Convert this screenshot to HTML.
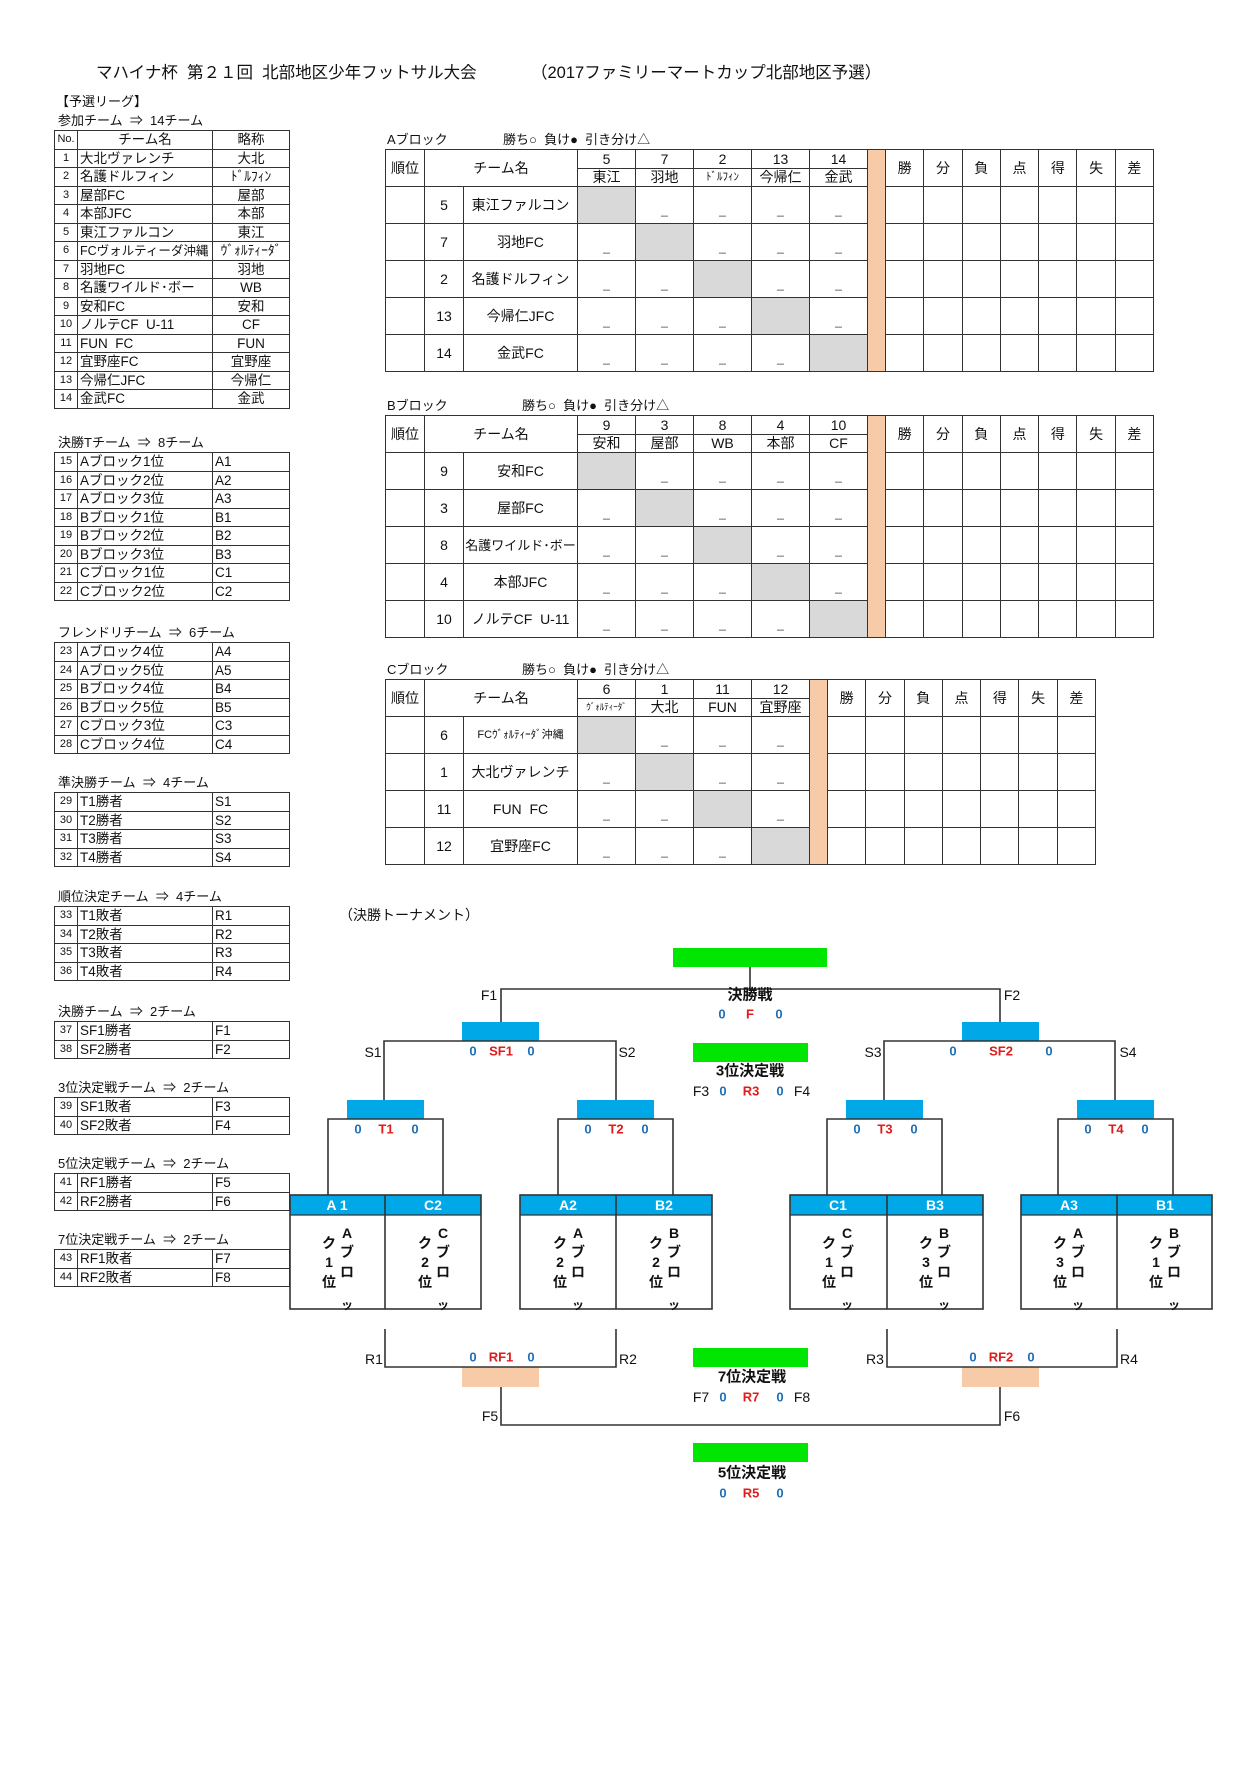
<!DOCTYPE html>
<html><head><meta charset="utf-8">
<style>
body{margin:0;width:1255px;height:1776px;background:#fff;position:relative;font-family:"Liberation Sans","Noto Sans CJK JP",sans-serif;color:#111;overflow:hidden}
.a{position:absolute;white-space:nowrap;line-height:1}
.c{position:absolute;white-space:nowrap;line-height:1;transform:translate(-50%,-50%)}
table{position:absolute;border-collapse:collapse;table-layout:fixed;font-size:13px}
td{border:1.5px solid #333;padding:0;text-align:center;line-height:1;overflow:hidden;white-space:nowrap}
.lt td{height:17.5px;font-size:13.5px}
.lt td.l{text-align:left;padding-left:2px}
.lt td.n{font-size:11px}
.bk td{height:36px;font-size:14px}
.bk tr.h td{height:17.5px}
.g{background:#d9d9d9}
.o{background:#f8cba8}
.bk td.d{vertical-align:bottom;font-size:12px;line-height:26px;padding:0;overflow:visible;color:#444}
.b{font-weight:bold}
.bl{color:#1f6fb5;font-weight:bold;font-size:13px}
.rd{color:#e01b1b;font-weight:bold;font-size:13px}
</style></head><body>

<div class="a" style="left:96px;top:65px;font-size:16.5px">マハイナ杯&nbsp;&nbsp;第２１回&nbsp;&nbsp;北部地区少年フットサル大会</div>
<div class="a" style="left:531px;top:65px;font-size:16.5px">（2017ファミリーマートカップ北部地区予選）</div>
<div class="a" style="left:56px;top:95px;font-size:13px">【予選リーグ】</div>
<div class="a" style="left:58px;top:114px;font-size:13px">参加チーム&nbsp;&nbsp;⇒&nbsp;&nbsp;14チーム</div>

<table class="lt" style="left:54px;top:130px;width:235px">
<col style="width:23px"><col style="width:135px"><col style="width:77px">
<tr><td class="n">No.</td><td>チーム名</td><td>略称</td></tr>
<tr><td class="n">1</td><td class="l">大北ヴァレンチ</td><td>大北</td></tr>
<tr><td class="n">2</td><td class="l">名護ドルフィン</td><td>ﾄﾞﾙﾌｨﾝ</td></tr>
<tr><td class="n">3</td><td class="l">屋部FC</td><td>屋部</td></tr>
<tr><td class="n">4</td><td class="l">本部JFC</td><td>本部</td></tr>
<tr><td class="n">5</td><td class="l">東江ファルコン</td><td>東江</td></tr>
<tr><td class="n">6</td><td class="l" style="font-size:12.5px">FCヴォルティーダ沖縄</td><td>ｳﾞｫﾙﾃｨｰﾀﾞ</td></tr>
<tr><td class="n">7</td><td class="l">羽地FC</td><td>羽地</td></tr>
<tr><td class="n">8</td><td class="l">名護ワイルド･ボー</td><td>WB</td></tr>
<tr><td class="n">9</td><td class="l">安和FC</td><td>安和</td></tr>
<tr><td class="n">10</td><td class="l">ノルテCF&nbsp;&nbsp;U-11</td><td>CF</td></tr>
<tr><td class="n">11</td><td class="l">FUN&nbsp;&nbsp;FC</td><td>FUN</td></tr>
<tr><td class="n">12</td><td class="l">宜野座FC</td><td>宜野座</td></tr>
<tr><td class="n">13</td><td class="l">今帰仁JFC</td><td>今帰仁</td></tr>
<tr><td class="n">14</td><td class="l">金武FC</td><td>金武</td></tr>
</table>

<div class="a" style="left:58px;top:436px;font-size:13px">決勝Tチーム&nbsp;&nbsp;⇒&nbsp;&nbsp;8チーム</div>
<table class="lt" style="left:54px;top:452px;width:235px">
<col style="width:23px"><col style="width:135px"><col style="width:77px">
<tr><td class="n">15</td><td class="l">Aブロック1位</td><td class="l">A1</td></tr>
<tr><td class="n">16</td><td class="l">Aブロック2位</td><td class="l">A2</td></tr>
<tr><td class="n">17</td><td class="l">Aブロック3位</td><td class="l">A3</td></tr>
<tr><td class="n">18</td><td class="l">Bブロック1位</td><td class="l">B1</td></tr>
<tr><td class="n">19</td><td class="l">Bブロック2位</td><td class="l">B2</td></tr>
<tr><td class="n">20</td><td class="l">Bブロック3位</td><td class="l">B3</td></tr>
<tr><td class="n">21</td><td class="l">Cブロック1位</td><td class="l">C1</td></tr>
<tr><td class="n">22</td><td class="l">Cブロック2位</td><td class="l">C2</td></tr>
</table>

<div class="a" style="left:58px;top:626px;font-size:13px">フレンドリチーム&nbsp;&nbsp;⇒&nbsp;&nbsp;6チーム</div>
<table class="lt" style="left:54px;top:642px;width:235px">
<col style="width:23px"><col style="width:135px"><col style="width:77px">
<tr><td class="n">23</td><td class="l">Aブロック4位</td><td class="l">A4</td></tr>
<tr><td class="n">24</td><td class="l">Aブロック5位</td><td class="l">A5</td></tr>
<tr><td class="n">25</td><td class="l">Bブロック4位</td><td class="l">B4</td></tr>
<tr><td class="n">26</td><td class="l">Bブロック5位</td><td class="l">B5</td></tr>
<tr><td class="n">27</td><td class="l">Cブロック3位</td><td class="l">C3</td></tr>
<tr><td class="n">28</td><td class="l">Cブロック4位</td><td class="l">C4</td></tr>
</table>

<div class="a" style="left:58px;top:776px;font-size:13px">準決勝チーム&nbsp;&nbsp;⇒&nbsp;&nbsp;4チーム</div>
<table class="lt" style="left:54px;top:792px;width:235px">
<col style="width:23px"><col style="width:135px"><col style="width:77px">
<tr><td class="n">29</td><td class="l">T1勝者</td><td class="l">S1</td></tr>
<tr><td class="n">30</td><td class="l">T2勝者</td><td class="l">S2</td></tr>
<tr><td class="n">31</td><td class="l">T3勝者</td><td class="l">S3</td></tr>
<tr><td class="n">32</td><td class="l">T4勝者</td><td class="l">S4</td></tr>
</table>

<div class="a" style="left:58px;top:890px;font-size:13px">順位決定チーム&nbsp;&nbsp;⇒&nbsp;&nbsp;4チーム</div>
<table class="lt" style="left:54px;top:906px;width:235px">
<col style="width:23px"><col style="width:135px"><col style="width:77px">
<tr><td class="n">33</td><td class="l">T1敗者</td><td class="l">R1</td></tr>
<tr><td class="n">34</td><td class="l">T2敗者</td><td class="l">R2</td></tr>
<tr><td class="n">35</td><td class="l">T3敗者</td><td class="l">R3</td></tr>
<tr><td class="n">36</td><td class="l">T4敗者</td><td class="l">R4</td></tr>
</table>

<div class="a" style="left:58px;top:1005px;font-size:13px">決勝チーム&nbsp;&nbsp;⇒&nbsp;&nbsp;2チーム</div>
<table class="lt" style="left:54px;top:1021px;width:235px">
<col style="width:23px"><col style="width:135px"><col style="width:77px">
<tr><td class="n">37</td><td class="l">SF1勝者</td><td class="l">F1</td></tr>
<tr><td class="n">38</td><td class="l">SF2勝者</td><td class="l">F2</td></tr>
</table>

<div class="a" style="left:58px;top:1081px;font-size:13px">3位決定戦チーム&nbsp;&nbsp;⇒&nbsp;&nbsp;2チーム</div>
<table class="lt" style="left:54px;top:1097px;width:235px">
<col style="width:23px"><col style="width:135px"><col style="width:77px">
<tr><td class="n">39</td><td class="l">SF1敗者</td><td class="l">F3</td></tr>
<tr><td class="n">40</td><td class="l">SF2敗者</td><td class="l">F4</td></tr>
</table>

<div class="a" style="left:58px;top:1157px;font-size:13px">5位決定戦チーム&nbsp;&nbsp;⇒&nbsp;&nbsp;2チーム</div>
<table class="lt" style="left:54px;top:1173px;width:235px">
<col style="width:23px"><col style="width:135px"><col style="width:77px">
<tr><td class="n">41</td><td class="l">RF1勝者</td><td class="l">F5</td></tr>
<tr><td class="n">42</td><td class="l">RF2勝者</td><td class="l">F6</td></tr>
</table>

<div class="a" style="left:58px;top:1233px;font-size:13px">7位決定戦チーム&nbsp;&nbsp;⇒&nbsp;&nbsp;2チーム</div>
<table class="lt" style="left:54px;top:1249px;width:235px">
<col style="width:23px"><col style="width:135px"><col style="width:77px">
<tr><td class="n">43</td><td class="l">RF1敗者</td><td class="l">F7</td></tr>
<tr><td class="n">44</td><td class="l">RF2敗者</td><td class="l">F8</td></tr>
</table>

<!-- A block -->
<div class="a" style="left:387px;top:133px;font-size:13px">Aブロック</div>
<div class="a" style="left:503px;top:133px;font-size:13px">勝ち○&nbsp;&nbsp;負け●&nbsp;&nbsp;引き分け△</div>
<table class="bk" style="left:385px;top:149px;width:768px">
<col style="width:39px"><col style="width:39px"><col style="width:114px"><col style="width:58px"><col style="width:58px"><col style="width:58px"><col style="width:58px"><col style="width:58px"><col style="width:18px"><col span="7" style="width:38.3px">
<tr class="h"><td rowspan="2">順位</td><td colspan="2" rowspan="2">チーム名</td><td>5</td><td>7</td><td>2</td><td>13</td><td>14</td><td rowspan="7" class="o"></td><td rowspan="2">勝</td><td rowspan="2">分</td><td rowspan="2">負</td><td rowspan="2">点</td><td rowspan="2">得</td><td rowspan="2">失</td><td rowspan="2">差</td></tr>
<tr class="h"><td>東江</td><td>羽地</td><td style="font-size:11px">ﾄﾞﾙﾌｨﾝ</td><td>今帰仁</td><td>金武</td></tr>
<tr><td></td><td>5</td><td>東江ファルコン</td><td class="g"></td><td class="d">_</td><td class="d">_</td><td class="d">_</td><td class="d">_</td><td></td><td></td><td></td><td></td><td></td><td></td><td></td></tr>
<tr><td></td><td>7</td><td>羽地FC</td><td class="d">_</td><td class="g"></td><td class="d">_</td><td class="d">_</td><td class="d">_</td><td></td><td></td><td></td><td></td><td></td><td></td><td></td></tr>
<tr><td></td><td>2</td><td>名護ドルフィン</td><td class="d">_</td><td class="d">_</td><td class="g"></td><td class="d">_</td><td class="d">_</td><td></td><td></td><td></td><td></td><td></td><td></td><td></td></tr>
<tr><td></td><td>13</td><td>今帰仁JFC</td><td class="d">_</td><td class="d">_</td><td class="d">_</td><td class="g"></td><td class="d">_</td><td></td><td></td><td></td><td></td><td></td><td></td><td></td></tr>
<tr><td></td><td>14</td><td>金武FC</td><td class="d">_</td><td class="d">_</td><td class="d">_</td><td class="d">_</td><td class="g"></td><td></td><td></td><td></td><td></td><td></td><td></td><td></td></tr>
</table>

<!-- B block -->
<div class="a" style="left:387px;top:399px;font-size:13px">Bブロック</div>
<div class="a" style="left:522px;top:399px;font-size:13px">勝ち○&nbsp;&nbsp;負け●&nbsp;&nbsp;引き分け△</div>
<table class="bk" style="left:385px;top:415px;width:768px">
<col style="width:39px"><col style="width:39px"><col style="width:114px"><col style="width:58px"><col style="width:58px"><col style="width:58px"><col style="width:58px"><col style="width:58px"><col style="width:18px"><col span="7" style="width:38.3px">
<tr class="h"><td rowspan="2">順位</td><td colspan="2" rowspan="2">チーム名</td><td>9</td><td>3</td><td>8</td><td>4</td><td>10</td><td rowspan="7" class="o"></td><td rowspan="2">勝</td><td rowspan="2">分</td><td rowspan="2">負</td><td rowspan="2">点</td><td rowspan="2">得</td><td rowspan="2">失</td><td rowspan="2">差</td></tr>
<tr class="h"><td>安和</td><td>屋部</td><td>WB</td><td>本部</td><td>CF</td></tr>
<tr><td></td><td>9</td><td>安和FC</td><td class="g"></td><td class="d">_</td><td class="d">_</td><td class="d">_</td><td class="d">_</td><td></td><td></td><td></td><td></td><td></td><td></td><td></td></tr>
<tr><td></td><td>3</td><td>屋部FC</td><td class="d">_</td><td class="g"></td><td class="d">_</td><td class="d">_</td><td class="d">_</td><td></td><td></td><td></td><td></td><td></td><td></td><td></td></tr>
<tr><td></td><td>8</td><td style="font-size:13px">名護ワイルド･ボー</td><td class="d">_</td><td class="d">_</td><td class="g"></td><td class="d">_</td><td class="d">_</td><td></td><td></td><td></td><td></td><td></td><td></td><td></td></tr>
<tr><td></td><td>4</td><td>本部JFC</td><td class="d">_</td><td class="d">_</td><td class="d">_</td><td class="g"></td><td class="d">_</td><td></td><td></td><td></td><td></td><td></td><td></td><td></td></tr>
<tr><td></td><td>10</td><td>ノルテCF&nbsp;&nbsp;U-11</td><td class="d">_</td><td class="d">_</td><td class="d">_</td><td class="d">_</td><td class="g"></td><td></td><td></td><td></td><td></td><td></td><td></td><td></td></tr>
</table>

<!-- C block -->
<div class="a" style="left:387px;top:663px;font-size:13px">Cブロック</div>
<div class="a" style="left:522px;top:663px;font-size:13px">勝ち○&nbsp;&nbsp;負け●&nbsp;&nbsp;引き分け△</div>
<table class="bk" style="left:385px;top:679px;width:710px">
<col style="width:39px"><col style="width:39px"><col style="width:114px"><col style="width:58px"><col style="width:58px"><col style="width:58px"><col style="width:58px"><col style="width:18px"><col span="7" style="width:38.3px">
<tr class="h"><td rowspan="2">順位</td><td colspan="2" rowspan="2">チーム名</td><td>6</td><td>1</td><td>11</td><td>12</td><td rowspan="6" class="o"></td><td rowspan="2">勝</td><td rowspan="2">分</td><td rowspan="2">負</td><td rowspan="2">点</td><td rowspan="2">得</td><td rowspan="2">失</td><td rowspan="2">差</td></tr>
<tr class="h"><td style="font-size:9px">ｳﾞｫﾙﾃｨｰﾀﾞ</td><td>大北</td><td>FUN</td><td>宜野座</td></tr>
<tr><td></td><td>6</td><td style="font-size:11px">FCｳﾞｫﾙﾃｨｰﾀﾞ沖縄</td><td class="g"></td><td class="d">_</td><td class="d">_</td><td class="d">_</td><td></td><td></td><td></td><td></td><td></td><td></td><td></td></tr>
<tr><td></td><td>1</td><td>大北ヴァレンチ</td><td class="d">_</td><td class="g"></td><td class="d">_</td><td class="d">_</td><td></td><td></td><td></td><td></td><td></td><td></td><td></td></tr>
<tr><td></td><td>11</td><td>FUN&nbsp;&nbsp;FC</td><td class="d">_</td><td class="d">_</td><td class="g"></td><td class="d">_</td><td></td><td></td><td></td><td></td><td></td><td></td><td></td></tr>
<tr><td></td><td>12</td><td>宜野座FC</td><td class="d">_</td><td class="d">_</td><td class="d">_</td><td class="g"></td><td></td><td></td><td></td><td></td><td></td><td></td><td></td></tr>
</table>

<div class="a" style="left:339px;top:908px;font-size:14px">（決勝トーナメント）</div>

<svg style="position:absolute;left:0;top:0" width="1255" height="1776">
<g fill="#00e600">
<rect x="673" y="948" width="154" height="19"/>
<rect x="693" y="1043" width="115" height="19"/>
<rect x="693" y="1348" width="115" height="19"/>
<rect x="693" y="1443" width="115" height="19"/>
</g>
<g fill="#00a8e8">
<rect x="462" y="1022" width="77" height="19"/>
<rect x="962" y="1022" width="77" height="19"/>
<rect x="347" y="1100" width="77" height="19"/>
<rect x="577" y="1100" width="77" height="19"/>
<rect x="846" y="1100" width="77" height="19"/>
<rect x="1077" y="1100" width="77" height="19"/>
<rect x="290" y="1195" width="191" height="20"/>
<rect x="520" y="1195" width="192" height="20"/>
<rect x="790" y="1195" width="193" height="20"/>
<rect x="1021" y="1195" width="191" height="20"/>
</g>
<g fill="#f8cba8">
<rect x="462" y="1367" width="77" height="20"/>
<rect x="962" y="1367" width="77" height="20"/>
</g>
<g stroke="#333" stroke-width="1.6" fill="none">
<path d="M750 967V989M501 1022V989H1000V1022"/>
<path d="M384 1100V1041H616V1100M884 1100V1041H1115V1100"/>
<path d="M328 1195V1119H443V1195M558 1195V1119H673V1195M827 1195V1119H942V1195M1058 1195V1119H1173V1195"/>
<rect x="290" y="1195" width="191" height="114"/><path d="M385 1195V1309"/>
<rect x="520" y="1195" width="192" height="114"/><path d="M616 1195V1309"/>
<rect x="790" y="1195" width="193" height="114"/><path d="M887 1195V1309"/>
<rect x="1021" y="1195" width="191" height="114"/><path d="M1117 1195V1309"/>
<path d="M290 1215H481M520 1215H712M790 1215H983M1021 1215H1212" stroke-width="1.2"/>
<path d="M385 1329V1367H616V1329M887 1329V1367H1117V1329"/>
<path d="M501 1387V1425H1000V1387"/>
</g>
</svg>

<div class="c" style="left:489px;top:995px;font-size:14px">F1</div>
<div class="c" style="left:1012px;top:995px;font-size:14px">F2</div>
<div class="c b" style="left:750px;top:995px;font-size:15px">決勝戦</div>
<div class="c bl" style="left:722px;top:1014px">0</div><div class="c rd" style="left:750px;top:1014px">F</div><div class="c bl" style="left:779px;top:1014px">0</div>

<div class="c" style="left:373px;top:1052px;font-size:14px">S1</div>
<div class="c" style="left:627px;top:1052px;font-size:14px">S2</div>
<div class="c bl" style="left:473px;top:1051px">0</div><div class="c rd" style="left:501px;top:1051px">SF1</div><div class="c bl" style="left:531px;top:1051px">0</div>
<div class="c" style="left:873px;top:1052px;font-size:14px">S3</div>
<div class="c" style="left:1128px;top:1052px;font-size:14px">S4</div>
<div class="c bl" style="left:953px;top:1051px">0</div><div class="c rd" style="left:1001px;top:1051px">SF2</div><div class="c bl" style="left:1049px;top:1051px">0</div>

<div class="c b" style="left:750px;top:1071px;font-size:15px">3位決定戦</div>
<div class="c" style="left:701px;top:1091px;font-size:14px">F3</div><div class="c bl" style="left:723px;top:1091px">0</div><div class="c rd" style="left:751px;top:1091px">R3</div><div class="c bl" style="left:780px;top:1091px">0</div><div class="c" style="left:802px;top:1091px;font-size:14px">F4</div>

<div class="c bl" style="left:358px;top:1129px">0</div><div class="c rd" style="left:386px;top:1129px">T1</div><div class="c bl" style="left:415px;top:1129px">0</div>
<div class="c bl" style="left:588px;top:1129px">0</div><div class="c rd" style="left:616px;top:1129px">T2</div><div class="c bl" style="left:645px;top:1129px">0</div>
<div class="c bl" style="left:857px;top:1129px">0</div><div class="c rd" style="left:885px;top:1129px">T3</div><div class="c bl" style="left:914px;top:1129px">0</div>
<div class="c bl" style="left:1088px;top:1129px">0</div><div class="c rd" style="left:1116px;top:1129px">T4</div><div class="c bl" style="left:1145px;top:1129px">0</div>

<div class="c" style="left:337px;top:1205px;color:#fff;font-weight:bold;font-size:14px">A 1</div>
<div class="c" style="left:433px;top:1205px;color:#fff;font-weight:bold;font-size:14px">C2</div>
<div class="c" style="left:568px;top:1205px;color:#fff;font-weight:bold;font-size:14px">A2</div>
<div class="c" style="left:664px;top:1205px;color:#fff;font-weight:bold;font-size:14px">B2</div>
<div class="c" style="left:838px;top:1205px;color:#fff;font-weight:bold;font-size:14px">C1</div>
<div class="c" style="left:935px;top:1205px;color:#fff;font-weight:bold;font-size:14px">B3</div>
<div class="c" style="left:1069px;top:1205px;color:#fff;font-weight:bold;font-size:14px">A3</div>
<div class="c" style="left:1165px;top:1205px;color:#fff;font-weight:bold;font-size:14px">B1</div>

<div class="c b" style="left:347px;top:1233px;font-size:14px">A</div><div class="c b" style="left:347px;top:1252px;font-size:14px">ブ</div><div class="c b" style="left:347px;top:1272px;font-size:14px">ロ</div>
<div class="c b" style="left:329px;top:1243px;font-size:14px">ク</div><div class="c b" style="left:329px;top:1262px;font-size:14px">1</div><div class="c b" style="left:329px;top:1282px;font-size:14px">位</div><div class="c b" style="left:347px;top:1305px;font-size:12px">ッ</div>

<div class="c b" style="left:443px;top:1233px;font-size:14px">C</div><div class="c b" style="left:443px;top:1252px;font-size:14px">ブ</div><div class="c b" style="left:443px;top:1272px;font-size:14px">ロ</div>
<div class="c b" style="left:425px;top:1243px;font-size:14px">ク</div><div class="c b" style="left:425px;top:1262px;font-size:14px">2</div><div class="c b" style="left:425px;top:1282px;font-size:14px">位</div><div class="c b" style="left:443px;top:1305px;font-size:12px">ッ</div>

<div class="c b" style="left:578px;top:1233px;font-size:14px">A</div><div class="c b" style="left:578px;top:1252px;font-size:14px">ブ</div><div class="c b" style="left:578px;top:1272px;font-size:14px">ロ</div>
<div class="c b" style="left:560px;top:1243px;font-size:14px">ク</div><div class="c b" style="left:560px;top:1262px;font-size:14px">2</div><div class="c b" style="left:560px;top:1282px;font-size:14px">位</div><div class="c b" style="left:578px;top:1305px;font-size:12px">ッ</div>

<div class="c b" style="left:674px;top:1233px;font-size:14px">B</div><div class="c b" style="left:674px;top:1252px;font-size:14px">ブ</div><div class="c b" style="left:674px;top:1272px;font-size:14px">ロ</div>
<div class="c b" style="left:656px;top:1243px;font-size:14px">ク</div><div class="c b" style="left:656px;top:1262px;font-size:14px">2</div><div class="c b" style="left:656px;top:1282px;font-size:14px">位</div><div class="c b" style="left:674px;top:1305px;font-size:12px">ッ</div>

<div class="c b" style="left:847px;top:1233px;font-size:14px">C</div><div class="c b" style="left:847px;top:1252px;font-size:14px">ブ</div><div class="c b" style="left:847px;top:1272px;font-size:14px">ロ</div>
<div class="c b" style="left:829px;top:1243px;font-size:14px">ク</div><div class="c b" style="left:829px;top:1262px;font-size:14px">1</div><div class="c b" style="left:829px;top:1282px;font-size:14px">位</div><div class="c b" style="left:847px;top:1305px;font-size:12px">ッ</div>

<div class="c b" style="left:944px;top:1233px;font-size:14px">B</div><div class="c b" style="left:944px;top:1252px;font-size:14px">ブ</div><div class="c b" style="left:944px;top:1272px;font-size:14px">ロ</div>
<div class="c b" style="left:926px;top:1243px;font-size:14px">ク</div><div class="c b" style="left:926px;top:1262px;font-size:14px">3</div><div class="c b" style="left:926px;top:1282px;font-size:14px">位</div><div class="c b" style="left:944px;top:1305px;font-size:12px">ッ</div>

<div class="c b" style="left:1078px;top:1233px;font-size:14px">A</div><div class="c b" style="left:1078px;top:1252px;font-size:14px">ブ</div><div class="c b" style="left:1078px;top:1272px;font-size:14px">ロ</div>
<div class="c b" style="left:1060px;top:1243px;font-size:14px">ク</div><div class="c b" style="left:1060px;top:1262px;font-size:14px">3</div><div class="c b" style="left:1060px;top:1282px;font-size:14px">位</div><div class="c b" style="left:1078px;top:1305px;font-size:12px">ッ</div>

<div class="c b" style="left:1174px;top:1233px;font-size:14px">B</div><div class="c b" style="left:1174px;top:1252px;font-size:14px">ブ</div><div class="c b" style="left:1174px;top:1272px;font-size:14px">ロ</div>
<div class="c b" style="left:1156px;top:1243px;font-size:14px">ク</div><div class="c b" style="left:1156px;top:1262px;font-size:14px">1</div><div class="c b" style="left:1156px;top:1282px;font-size:14px">位</div><div class="c b" style="left:1174px;top:1305px;font-size:12px">ッ</div>

<div class="c" style="left:374px;top:1359px;font-size:14px">R1</div>
<div class="c" style="left:628px;top:1359px;font-size:14px">R2</div>
<div class="c bl" style="left:473px;top:1357px">0</div><div class="c rd" style="left:501px;top:1357px">RF1</div><div class="c bl" style="left:531px;top:1357px">0</div>
<div class="c" style="left:875px;top:1359px;font-size:14px">R3</div>
<div class="c" style="left:1129px;top:1359px;font-size:14px">R4</div>
<div class="c bl" style="left:973px;top:1357px">0</div><div class="c rd" style="left:1001px;top:1357px">RF2</div><div class="c bl" style="left:1031px;top:1357px">0</div>

<div class="c b" style="left:752px;top:1377px;font-size:15px">7位決定戦</div>
<div class="c" style="left:701px;top:1397px;font-size:14px">F7</div><div class="c bl" style="left:723px;top:1397px">0</div><div class="c rd" style="left:751px;top:1397px">R7</div><div class="c bl" style="left:780px;top:1397px">0</div><div class="c" style="left:802px;top:1397px;font-size:14px">F8</div>

<div class="c" style="left:490px;top:1416px;font-size:14px">F5</div>
<div class="c" style="left:1012px;top:1416px;font-size:14px">F6</div>

<div class="c b" style="left:752px;top:1473px;font-size:15px">5位決定戦</div>
<div class="c bl" style="left:723px;top:1493px">0</div><div class="c rd" style="left:751px;top:1493px">R5</div><div class="c bl" style="left:780px;top:1493px">0</div>

</body></html>
